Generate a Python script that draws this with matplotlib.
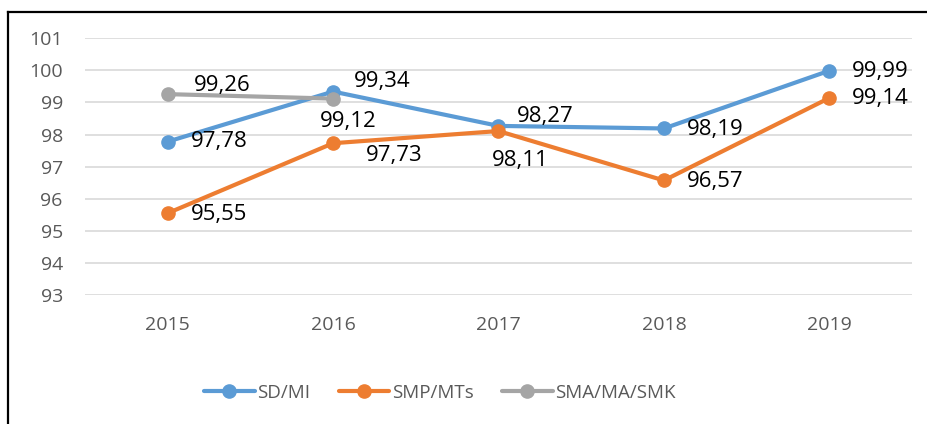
import matplotlib.pyplot as plt
from matplotlib.lines import Line2D

plt.rcParams['font.family'] = ['Open Sans', 'DejaVu Sans']

years = ['2015', '2016', '2017', '2018', '2019']
sd_mi = [97.78, 99.34, 98.27, 98.19, 99.99]
smp_mts = [95.55, 97.73, 98.11, 96.57, 99.14]
sma_ma_smk = [99.26, 99.12]
series_names = ['SD/MI', 'SMP/MTs', 'SMA/MA/SMK']

colors = ['#5B9BD5', '#ED7D31', '#A5A5A5']
# label offsets in pixels (dx, dy) from each marker
offsets = [
    [(23, 0), (21, 10), (18, 9), (23, -1), (23, -1)],
    [(23, -1), (33, -12), (-7, -29), (23, -1), (23, -1)],
    [(26, 9), (-13, -23)],
]

fig = plt.figure(figsize=(9.28, 4.24), dpi=100)
ax = fig.add_axes([85 / 928, 1 - 295 / 424, (912 - 85) / 928, (295 - 38.3) / 424])

x_all = list(range(len(years)))
data = [sd_mi, smp_mts, sma_ma_smk]
for vals, name, col, offs in zip(data, series_names, colors, offsets):
    xs = x_all[:len(vals)]
    ax.plot(xs, vals, color=col, lw=3, marker='o', ms=9.5, label=name,
            solid_capstyle='round', zorder=3)
    for x, v, (dx, dy) in zip(xs, vals, offs):
        ax.annotate(f'{v:.2f}'.replace('.', ','), (x, v), xytext=(dx, dy),
                    textcoords='offset pixels', ha='left', va='center',
                    fontsize=16, color='black', zorder=4)

ax.set_xlim(-0.5, 4.5)
ax.set_ylim(93, 101)
ax.set_yticks(range(93, 102))
ax.set_xticks(x_all)
ax.set_xticklabels(years)
ax.grid(axis='y', color='#D9D9D9', lw=1.2, zorder=0)
ax.set_axisbelow(True)
for s in ax.spines.values():
    s.set_visible(False)
ax.tick_params(axis='both', length=0, labelsize=14, colors='#595959')
ax.tick_params(axis='y', pad=16)
ax.tick_params(axis='x', pad=15)

fig.legend(loc='center', bbox_to_anchor=(440 / 928, 1 - 393 / 424), ncol=3,
           frameon=False, fontsize=13.5, handlelength=2.7, handletextpad=0.15,
           columnspacing=1.5, labelcolor='#595959')

# chart-area border: only the top and left edges fall inside the picture
top = 1 - 12 / 424
left = 8 / 928
fig.add_artist(Line2D([left, 1], [top, top], transform=fig.transFigure,
                      color='black', lw=1.6))
fig.add_artist(Line2D([left, left], [0, top], transform=fig.transFigure,
                      color='black', lw=1.6))

fig.savefig('out.png', dpi=100)
